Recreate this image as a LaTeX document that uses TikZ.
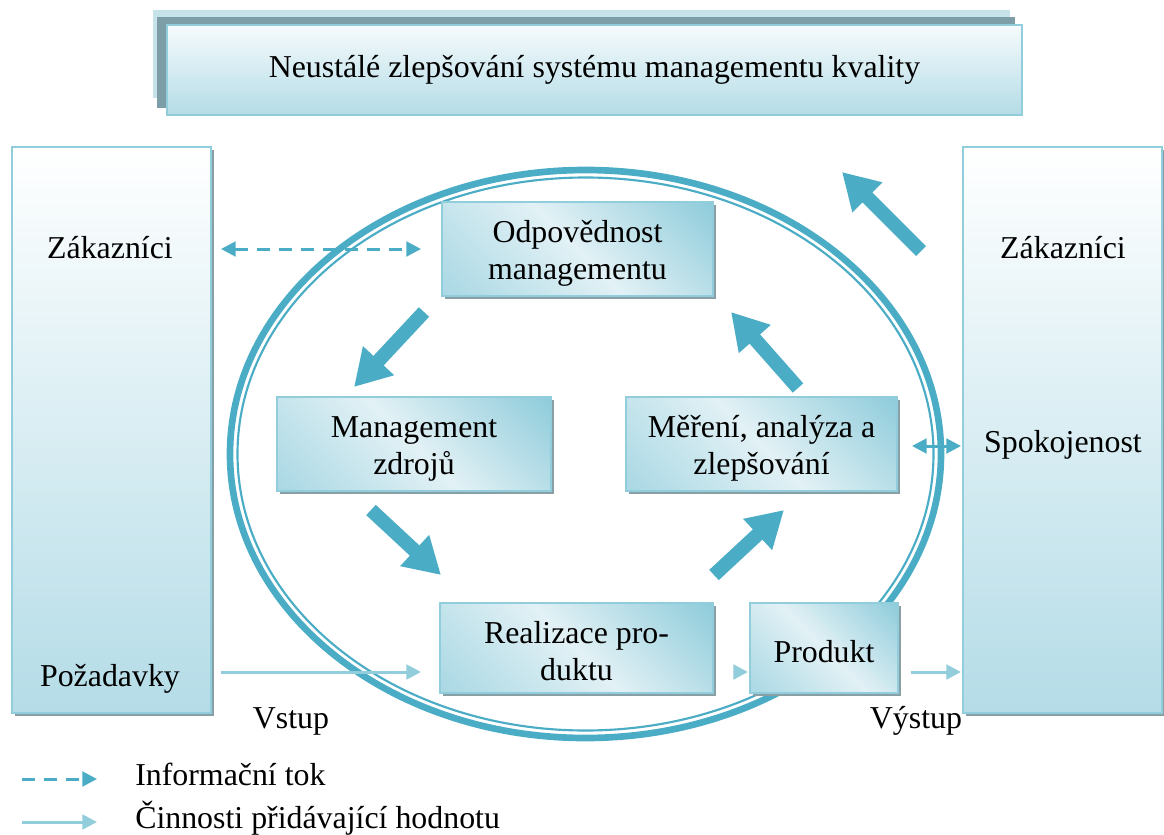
\documentclass[tikz,border=0pt]{standalone}
\usepackage{fontspec}
\setmainfont{Liberation Serif}
\newfontfamily\dserif{Liberation Serif}
\usetikzlibrary{arrows.meta,shadows}

\definecolor{qteal}{HTML}{4BACC6}
\definecolor{qlight}{HTML}{92CDDC}
\definecolor{bxlight}{HTML}{E2F1F5}
\definecolor{bxmid}{HTML}{A9D8E4}
\definecolor{bxdark}{HTML}{8FCCDB}
\definecolor{tallbot}{HTML}{B4DCE7}
\definecolor{titletop}{HTML}{F6FBFC}
\definecolor{qshadow}{HTML}{889FA6}
\definecolor{gridlight}{HTML}{C6E3EA}
\definecolor{griddark}{HTML}{7E9EA7}

% diagonal light band across the process boxes
\pgfdeclarehorizontalshading{procshade}{100bp}{color(0bp)=(bxmid); color(15bp)=(bxmid); color(50bp)=(bxlight); color(85bp)=(bxdark); color(100bp)=(bxdark)}

\newcommand{\dfont}{\dserif\fontsize{23.9pt}{27.8pt}\selectfont}

\pgfdeclarelayer{under}
\pgfdeclarelayer{ring}
\pgfsetlayers{under,ring,main}

\tikzset{
  boxshadow/.style={general shadow={fill=qshadow, shadow xshift=2.25pt, shadow yshift=-2.25pt}},
  procbox/.style={draw=qlight, line width=1.5pt, shade, shading=procshade, shading angle=45,
    inner sep=0pt, boxshadow},
  boxtxt/.style={align=center, inner sep=0pt, font=\dfont},
  tallbox/.style={draw=qlight, line width=1.5pt, top color=white, bottom color=tallbot,
    minimum width=149.25pt, minimum height=424.5pt, inner sep=0pt, boxshadow},
  txt/.style={font=\dfont, inner sep=0pt, anchor=base},
  bigarrow/.style={draw=qteal, line width=10.5pt, -{Triangle[length=27pt,width=30pt]}},
  tipA/.tip={Triangle[length=11pt,width=11pt]},
  infoflow/.style={draw=qteal, line width=2.25pt, dash pattern=on 9.75pt off 6.75pt},
  valueflow/.style={draw=qlight, line width=2.25pt, -tipA},
  ringouter/.style={draw=qteal, line width=5pt},
  ringinner/.style={draw=qteal, line width=1.6pt},
}

\begin{document}
\begin{tikzpicture}[x=0.75pt,y=-0.75pt]
\useasboundingbox (0,0) rectangle (1164,835);

% title banner with its stacked back layers
\fill[gridlight] (153,10) rectangle (1010,98);
\fill[griddark] (157,17) rectangle (1015,108);
\node[draw=qlight, line width=2pt, top color=titletop, bottom color=tallbot,
      minimum width=641.25pt, minimum height=67.5pt, inner sep=0pt, font=\dfont]
  (title) at (594.5,70) {Neustálé zlepšování systému managementu kvality};

% customer columns
\node[tallbox] (custL) at (111.5,430) {};
\node[tallbox] (custR) at (1062.5,430) {};
\node[txt] (zkL) at (110,258) {Zákazníci};
\node[txt] (req) at (110,686) {Požadavky};
\node[txt] (zkR) at (1063,258) {Zákazníci};
\node[txt] (sat) at (1063,452) {Spokojenost};

% the improvement ring, behind the boxes
\begin{pgfonlayer}{ring}
\draw[ringouter] (585.5,454) ellipse [x radius=355.5, y radius=284];
\draw[ringinner] (585.5,454) ellipse [x radius=348, y radius=276.5];
\end{pgfonlayer}

% process boxes
\node[procbox, minimum width=203.25pt, minimum height=70.5pt] (odp) at (577.5,249) {};
\node[procbox, minimum width=205.5pt, minimum height=70.5pt] (mzd) at (414,444) {};
\node[procbox, minimum width=203.25pt, minimum height=70.5pt] (mer) at (761.5,444) {};
\node[procbox, minimum width=204.75pt, minimum height=67.5pt] (real) at (576.5,648) {};
\node[procbox, minimum width=111pt, minimum height=67.5pt] (prod) at (824,648) {};

\node[boxtxt] (odpT) at ([yshift=-3pt]odp.center) {Odpovědnost\\managementu};
\node[boxtxt] (mzdT) at ([yshift=-3.5pt]mzd.center) {Management\\zdrojů};
\node[boxtxt] (merT) at ([yshift=-3pt]mer.center) {Měření, analýza a\\zlepšování};
\node[boxtxt] (realT) at ([yshift=-2.5pt]real.center) {Realizace pro-\\duktu};
\node[boxtxt] (prodT) at ([yshift=-2.5pt]prod.center) {Produkt};

% feedback between measurement and satisfaction (runs beneath the ring)
\coordinate (fb) at (930,446);
\begin{pgfonlayer}{under}
\draw[qteal, line width=2.25pt, tipA-tipA, shorten <=10.5pt, shorten >=0.75pt]
  (mer.east |- fb) -- (custR.west |- fb);
\end{pgfonlayer}

% information flow with customers
\draw[infoflow, tipA-tipA, shorten <=6.75pt, shorten >=15pt]
  (custL.east |- odp.west) -- (odp.west);

% value adding flow
\coordinate (flow) at (576,672);
\draw[valueflow, shorten <=6.75pt, shorten >=13.5pt] (custL.east |- flow) -- (real.west |- flow);
\draw[valueflow, shorten <=15pt, shorten >=0.75pt] (real.east |- flow) -- (prod.west |- flow);
\draw[valueflow, shorten <=9pt, shorten >=0.75pt] (prod.east |- flow) -- (custR.west |- flow);
\node[txt] (vin) at (291,728) {Vstup};
\node[txt] (vout) at (916,728) {Výstup};

% cycle arrows
\coordinate (c1a) at (424,312); \coordinate (c1b) at (354,387);
\coordinate (c2a) at (371,510); \coordinate (c2b) at (441,575);
\coordinate (c3a) at (714,575); \coordinate (c3b) at (784,510);
\coordinate (c4a) at (798,388); \coordinate (c4b) at (731,312);
\coordinate (c5a) at (921,251); \coordinate (c5b) at (842,172);
\draw[bigarrow] (c1a) -- (c1b);
\draw[bigarrow] (c2a) -- (c2b);
\draw[bigarrow] (c3a) -- (c3b);
\draw[bigarrow] (c4a) -- (c4b);
\draw[bigarrow] (c5a) -- (c5b);

% legend
\node[txt, anchor=base west] (leg1) at (135,785) {Informační tok};
\node[txt, anchor=base west] (leg2) at (135,828) {Činnosti přidávající hodnotu};
\coordinate (lg1) at (22,779);
\coordinate (lg2) at (22,822);
\draw[infoflow, -tipA, shorten >=28.5pt] (lg1) -- (lg1 -| leg1.west);
\draw[valueflow, shorten >=28.5pt] (lg2) -- (lg2 -| leg2.west);
\end{tikzpicture}
\end{document}
